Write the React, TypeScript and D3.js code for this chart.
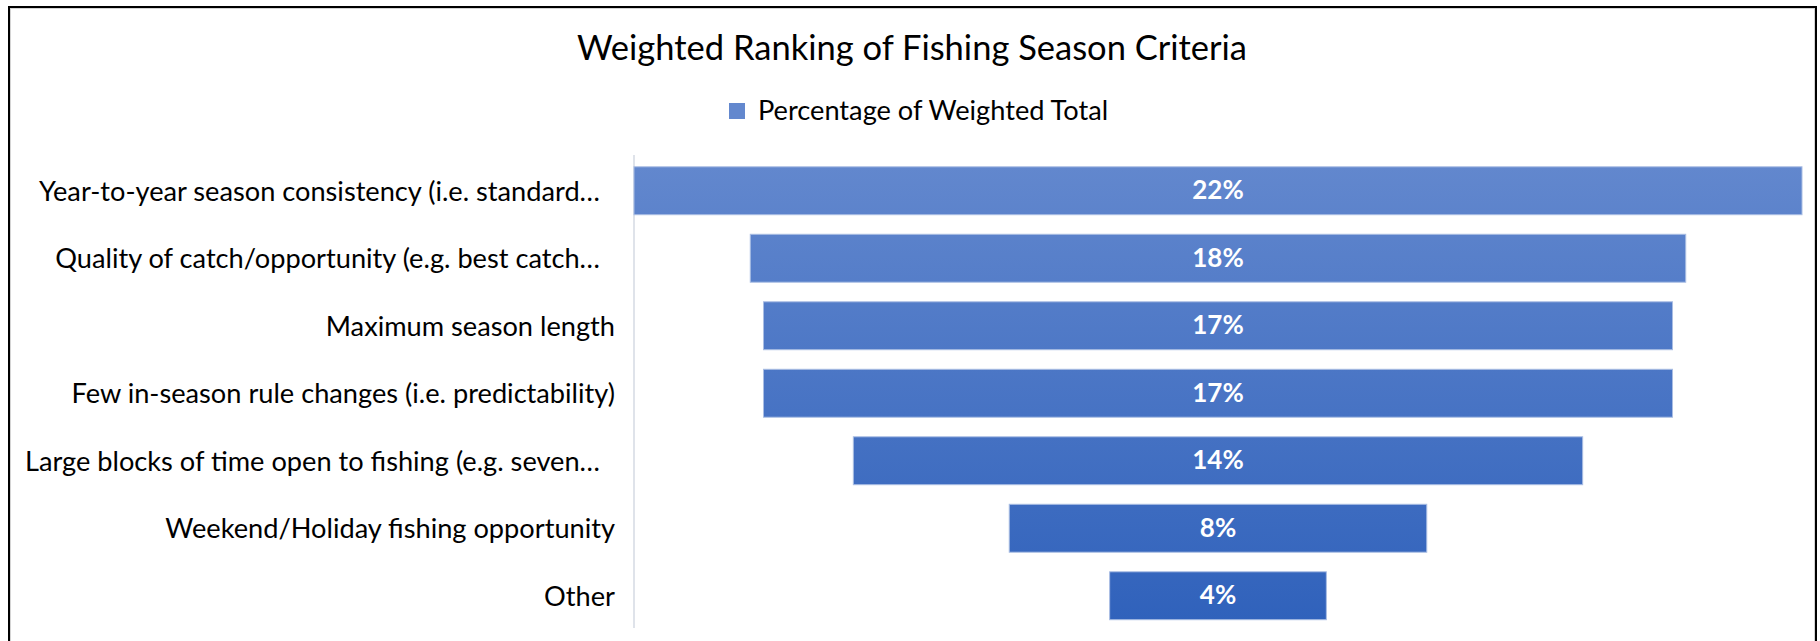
import React from "react";
import * as d3 from "d3";

const title = "Weighted Ranking of Fishing Season Criteria";
const legendLabel = "Percentage of Weighted Total";
const categories = [
  "Year-to-year season consistency (i.e. standard…",
  "Quality of catch/opportunity (e.g. best catch…",
  "Maximum season length",
  "Few in-season rule changes (i.e. predictability)",
  "Large blocks of time open to fishing (e.g. seven…",
  "Weekend/Holiday fishing opportunity",
  "Other",
];
const values = [22.1, 17.7, 17.2, 17.2, 13.8, 7.9, 4.1];

const W = 1820;
const H = 641;
const FONT = "Lato, 'Open Sans', sans-serif";

export default function App() {
  const plotTop = 157;
  const plotBottom = 629.5;
  const axisX = 634;
  const centerX = 1218;
  const maxWidth = 1168;

  const y = d3
    .scaleBand<string>()
    .domain(categories)
    .range([plotTop, plotBottom])
    .paddingInner(0.29)
    .paddingOuter(0.145);
  const w = d3.scaleLinear().domain([0, d3.max(values) as number]).range([0, maxWidth]);
  const fmt = (v: number) => `${Math.round(v)}%`;

  return (
    <svg
      width={W}
      height={H}
      style={{ position: "absolute", left: 0, top: 0, background: "#fff" }}
    >
      <defs>
        <linearGradient id="barGrad" gradientUnits="userSpaceOnUse" x1="0" y1={plotTop} x2="0" y2={plotBottom}>
          <stop offset="0%" stopColor="#6388ce" />
          <stop offset="100%" stopColor="#2f61bb" />
        </linearGradient>
      </defs>
      <rect x={0} y={0} width={W} height={H} fill="#fff" />
      {/* frame */}
      <rect x={9} y={7} width={1807} height={700} fill="none" stroke="#000" strokeWidth={2} />
      <rect x={10.5} y={8.5} width={1804} height={700} fill="none" stroke="#d4d4d4" strokeWidth={1} />

      {/* title */}
      <text x={912} y={60} textAnchor="middle" fontFamily={FONT} fontSize={34.5} fill="#000">
        {title}
      </text>

      {/* legend */}
      <rect x={729} y={103} width={16} height={16} fill="url(#barGrad)" />
      <text x={758} y={120} fontFamily={FONT} fontSize={27.2} fill="#000">
        {legendLabel}
      </text>

      {/* axis line */}
      <line x1={axisX} x2={axisX} y1={155} y2={628} stroke="#dfe3ea" strokeWidth={2} />

      {/* bars */}
      {categories.map((c, i) => {
        const bw = w(values[i]);
        const by = y(c) as number;
        return (
          <g key={c}>
            <rect
              x={centerX - bw / 2}
              y={by}
              width={bw}
              height={y.bandwidth()}
              fill="url(#barGrad)"
              stroke="#a9bde3"
              strokeWidth={1}
            />
            <text
              x={centerX}
              y={by + y.bandwidth() / 2 + 2}
              textAnchor="middle"
              dominantBaseline="middle"
              fontFamily={FONT}
              fontWeight="bold"
              fontSize={26}
              fill="#fff"
            >
              {fmt(values[i])}
            </text>
            <text
              x={c.endsWith("…") ? 600 : 615}
              y={by + y.bandwidth() / 2 + 3}
              textAnchor="end"
              dominantBaseline="middle"
              fontFamily={FONT}
              fontSize={27.2}
              fill="#000"
            >
              {c}
            </text>
          </g>
        );
      })}
    </svg>
  );
}
